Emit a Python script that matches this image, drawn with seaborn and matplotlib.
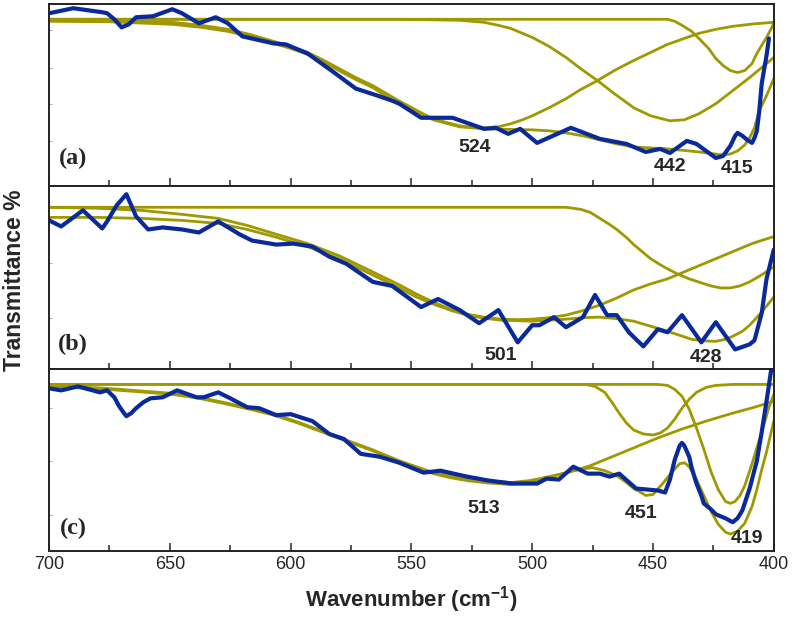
import numpy as np
import pandas as pd
import matplotlib
matplotlib.use("Agg")
import matplotlib.pyplot as plt
from matplotlib.ticker import MultipleLocator
import seaborn as sns

# -------------------------------
# DATA (arbitrary transmittance units)
# -------------------------------

# panel (a)
a_meas_w = [700, 690, 678, 676, 673, 670, 667, 664, 657, 649, 645, 638, 631, 626, 620, 607, 602, 593,
            582, 573, 564, 558, 555, 546, 533, 520, 515, 510, 505, 498, 484, 472, 461, 453, 447, 443,
            436, 432, 424, 421, 418, 416, 415, 413, 411, 409, 408, 407, 406, 405, 403, 402]
a_meas_t = [172, 177, 173, 172, 166, 158, 161, 168, 169, 176, 172, 162, 168, 162, 149, 142, 141, 132,
            113, 97, 90, 85, 82, 68, 68, 57, 58, 52, 57, 43, 58, 47, 42, 34, 37, 33,
            45, 42, 28, 30, 40, 50, 53, 50, 46, 43, 48, 55, 75, 102, 130, 147]
a_c1_w = [700, 675, 649, 637, 626, 617, 607, 600, 593, 587, 580, 573, 566, 556, 546, 541, 535, 530,
          525, 520, 514, 509, 504, 500, 493, 486, 480, 473, 466, 458, 451, 444, 437, 431, 424, 417,
          408, 400]
a_c1_t = [165, 164.5, 163, 160, 156, 151, 144, 139, 133, 126, 117, 108, 100, 86, 73, 67, 63, 60,
          58.5, 58, 59, 62, 66, 70, 78, 87, 96, 105, 115, 125, 133, 141, 147, 152, 156, 159,
          161.5, 163]
a_c2_w = [700, 600, 555, 530, 520, 514, 509, 505, 500, 493, 486, 480, 473, 466, 458, 451, 443, 437,
          431, 424, 417, 410, 405, 400]
a_c2_t = [166, 166, 166, 165, 163, 160, 157, 153, 148, 139, 128, 117, 105, 92, 78, 70, 65, 66,
          72, 82, 95, 108, 118, 128]
a_c3_w = [700, 450, 444, 441, 438, 434, 431, 427, 424, 421, 418, 415, 412, 409, 407, 405, 403, 401, 400]
a_c3_t = [166, 166, 166, 164, 160, 154, 147, 137, 127, 120, 115, 113, 115, 122, 132, 140, 148, 157, 162]
a_fit_w = [700, 675, 649, 637, 626, 617, 607, 600, 593, 587, 580, 573, 566, 555, 546, 541, 530, 520,
           510, 500, 493, 486, 479, 472, 465, 458, 451, 444, 437, 431, 426, 421, 418, 415, 412, 410,
           408, 406, 403, 400]
a_fit_t = [164, 163.5, 161, 158, 154, 149, 142, 137, 131, 124, 115, 106, 98, 81, 72, 66, 59, 57,
           56.5, 56, 55, 53, 50, 46, 42, 39, 38, 37, 35.5, 34, 32.5, 31, 32, 35, 41, 48,
           58, 75, 90, 107]

# panel (b)
b_meas_w = [700, 695, 686, 678, 676, 672, 668, 664, 659, 653, 645, 638, 630, 621, 616, 606, 599, 591,
            584, 577, 566, 558, 546, 539, 530, 522, 514, 506, 500, 497, 491, 486, 479, 474, 469, 465,
            460, 454, 448, 444, 438, 430, 424, 416, 410, 408, 405, 403, 400]
b_meas_t = [147, 141, 157, 139, 146, 162, 173, 151, 138, 140, 138, 135, 146, 133, 127, 123, 124, 121,
            111, 104, 86, 82, 61, 69, 58, 45, 58, 26, 43, 43, 51, 41, 51, 73, 53, 53,
            36, 22, 39, 36, 53, 26, 46, 19, 24, 28, 55, 89, 118]
b_c1_w = [700, 680, 662, 645, 630, 618, 607, 593, 580, 567, 555, 548, 541, 534, 527, 520, 513, 506,
          500, 493, 486, 479, 472, 465, 458, 451, 444, 437, 431, 424, 417, 409, 400]
b_c1_t = [160, 159, 157, 153, 149, 142, 134, 124, 112, 97, 83, 74, 66, 59, 54, 51, 49, 48.5,
          49, 50.5, 53, 57.5, 63, 70, 78, 84, 89, 96, 102, 109, 116, 124, 131]
b_c2_w = [700, 486, 480, 476, 472, 468, 465, 461, 458, 454, 451, 447, 444, 440, 435, 430, 426, 422,
          418, 414, 410, 405, 400]
b_c2_t = [160, 160, 158, 155, 149, 143, 138, 130, 123, 115, 109, 103, 99, 94, 89, 85, 82, 80,
          80, 82, 86, 93, 101]
b_fit_w = [700, 680, 662, 645, 630, 618, 607, 593, 580, 567, 555, 548, 541, 534, 527, 520, 513, 506,
           500, 493, 486, 479, 472, 465, 458, 451, 444, 439, 434, 429, 424, 420, 417, 413, 410, 405,
           400]
b_fit_t = [150, 150, 149, 147, 144, 138, 131, 121, 109, 94, 80, 71, 64, 58, 53, 50, 48, 47.5,
           47, 48, 49, 50.5, 51, 49.5, 47, 42, 37, 33, 29, 27.5, 27, 29, 32, 37, 43, 56,
           71]

# panel (c)
c_meas_w = [700, 695, 688, 679, 676, 673, 671, 669, 668, 666, 664, 661, 658, 653, 647, 639, 636, 630,
            625, 618, 613, 606, 600, 591, 584, 578, 571, 563, 555, 545, 538, 527, 518, 508, 498, 494,
            489, 483, 477, 472, 468, 464, 457, 448, 445, 443, 441, 439, 438, 437, 435, 434, 432, 430,
            429, 426, 424, 420, 417, 415, 413, 410, 407, 405, 403, 401, 400]
c_meas_t = [164, 162, 166, 160, 162, 155, 146, 139, 136, 139, 144, 150, 154, 155, 162, 155, 155, 160,
            154, 145, 144, 137, 138, 131, 118, 113, 98, 95, 89, 79, 81, 75, 71, 68, 68, 73,
            72, 85, 78, 78, 75, 78, 63, 61, 59, 72, 92, 106, 109, 106, 95, 84, 68, 56,
            48, 42, 37, 33, 29, 33, 41, 63, 91, 120, 151, 184, 196]
c_c1_w = [700, 676, 649, 638, 628, 617, 607, 597, 587, 576, 566, 555, 548, 541, 534, 527, 518, 509,
          501, 493, 484, 476, 467, 458, 448, 438, 428, 417, 408, 400]
c_c1_t = [167, 164, 159, 155, 150, 144, 138, 130, 121, 111, 102, 91, 85, 79, 76, 73, 70.5, 69,
          71, 75, 80, 86, 95, 104, 114, 123, 131, 139, 145, 151]
c_c2_w = [700, 478, 474, 470, 467, 464, 461, 458, 454, 450, 447, 444, 441, 438, 435, 432, 428, 424,
          417, 400]
c_c2_t = [168, 168, 166, 160, 150, 139, 129, 122, 118, 117, 119, 124, 133, 144, 153, 160, 165, 167,
          168, 168]
c_c3_w = [700, 448, 444, 441, 438, 435, 432, 429, 426, 423, 420, 418, 416, 414, 412, 409, 406, 404,
          402, 400]
c_c3_t = [168, 168, 167, 163, 156, 143, 124, 103, 80, 62, 50, 48, 50, 56, 66, 88, 112, 128,
          145, 158]
c_fit_w = [700, 676, 649, 638, 628, 617, 607, 597, 587, 576, 566, 555, 548, 541, 534, 527, 518, 509,
           501, 493, 488, 483, 479, 475, 470, 465, 461, 458, 455, 453, 450, 446, 442, 439, 437, 435,
           432, 429, 426, 423, 420, 418, 415, 412, 409, 407, 405, 403, 400]
c_fit_t = [166, 163, 158, 154, 149, 143, 137, 129, 120, 110, 101, 90, 84, 78, 74, 71, 68.5, 67,
           70, 74, 77.5, 81, 83, 84, 81, 76, 69, 63, 59, 56, 57, 68, 80, 88, 89, 85,
           72, 56, 40, 27, 19, 17, 20, 28, 45, 62, 82, 100, 131]

panel_tags = ["(a)", "(b)", "(c)"]
tag_t = [28, 24, 23]
peak_labels = [["524", "442", "415"], ["501", "428"], ["513", "451", "419"]]
peak_w = [[524, 443, 415], [513, 428], [520, 455, 411]]
peak_t = [[38, 20, 18], [13, 11], [43, 38, 13]]

xticks = [700, 650, 600, 550, 500, 450, 400]

# -------------------------------
# STYLE
# -------------------------------

sns.set_style("ticks")
plt.rcParams['font.family'] = ['Liberation Sans', 'DejaVu Sans']
plt.rcParams['mathtext.fontset'] = 'custom'
plt.rcParams['mathtext.rm'] = 'Liberation Sans'
plt.rcParams['mathtext.bf'] = 'Liberation Sans:bold'

olive = "#A09800"
blue = "#0A2A9C"

fig, axes = plt.subplots(3, 1, figsize=(7.92, 6.17), dpi=100, sharex=True)
fig.subplots_adjust(left=0.062, right=0.977, top=0.994, bottom=0.107, hspace=0)

panels = [
    (a_meas_w, a_meas_t, [(a_c1_w, a_c1_t), (a_c2_w, a_c2_t), (a_c3_w, a_c3_t), (a_fit_w, a_fit_t)], 181.5, [45, 82, 118, 155]),
    (b_meas_w, b_meas_t, [(b_c1_w, b_c1_t), (b_c2_w, b_c2_t), (b_fit_w, b_fit_t)], 181, [50, 105, 160]),
    (c_meas_w, c_meas_t, [(c_c1_w, c_c1_t), (c_c2_w, c_c2_t), (c_c3_w, c_c3_t), (c_fit_w, c_fit_t)], 184, [36, 91, 144]),
]

for i, (ax, (mw, mt, comps, ytop, yt)) in enumerate(zip(axes, panels)):
    for cw, ct in comps:
        sns.lineplot(x=cw, y=ct, ax=ax, color=olive, lw=2.0, sort=False,
                     estimator=None, solid_joinstyle='round', solid_capstyle='round')
    sns.lineplot(x=mw, y=mt, ax=ax, color=blue, lw=3.0, sort=False,
                 estimator=None, solid_joinstyle='round', solid_capstyle='round')

    ax.set_xlim(700, 400)
    ax.set_ylim(0, ytop)
    ax.set_yticks(yt)
    ax.set_yticklabels([])
    ax.tick_params(axis='y', direction='in', length=2, width=0.6, color='#999999')
    ax.xaxis.set_major_locator(MultipleLocator(50))
    ax.xaxis.set_minor_locator(MultipleLocator(25))
    ax.tick_params(axis='x', which='major', direction='in', length=6, width=1.1, labelsize=13)
    ax.tick_params(axis='x', which='minor', direction='in', length=4, width=1.1)
    for s in ax.spines.values():
        s.set_linewidth(1.4)
        s.set_color('#222222')
    ax.set_xlabel("")
    ax.set_ylabel("")

    ax.text(690, tag_t[i], panel_tags[i], ha='center', va='center',
            fontsize=17.5, fontweight='bold', family=['Liberation Serif', 'DejaVu Serif'])
    for lab, pw, pt in zip(peak_labels[i], peak_w[i], peak_t[i]):
        ax.text(pw, pt, lab, ha='center', va='center', fontsize=14, fontweight='bold')

axes[2].set_xticks(xticks)
axes[2].set_xticklabels([str(v) for v in xticks])
axes[2].set_xlabel(r"Wavenumber (cm$^{\mathbf{-1}}$)", fontsize=16, fontweight='bold', labelpad=8)

fig.text(0.018, 0.545, "Transmittance %", rotation=90, ha='center', va='center',
         fontsize=16.5, fontweight='bold')

plt.savefig("out.png", dpi=100)
